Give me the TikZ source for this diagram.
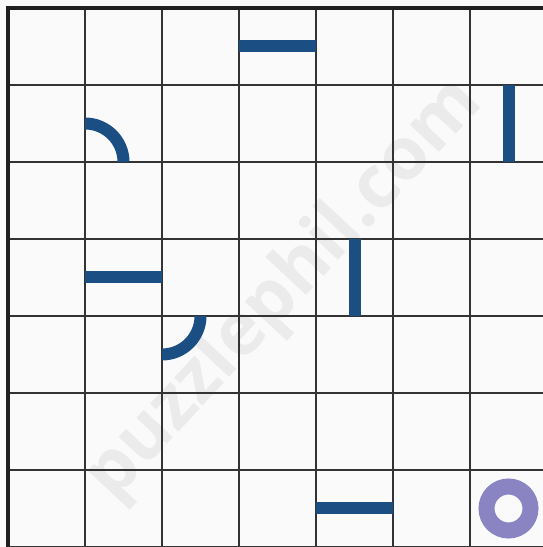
\documentclass[tikz,border=0pt]{standalone}
\usepackage{fontspec}
\newfontfamily\wmfont{Open Sans}
\usepackage{xcolor}
\definecolor{pathblue}{HTML}{1B4F84}
\definecolor{ringpurple}{HTML}{8A84C2}
\definecolor{paper}{HTML}{FAFAFA}
\definecolor{wmgray}{HTML}{EBEBEB}

\begin{document}
\begin{tikzpicture}[x=1pt,y=1pt,
  gridline/.style={draw=black!80,line width=1.2pt},
  border/.style={draw=black!88,line width=4pt},
  seg/.style={draw=pathblue,line width=12pt},
  ring/.style={draw=ringpurple,line width=16pt}]
\useasboundingbox (0,0) rectangle (543,547);
\clip (0,0) rectangle (543,547);
\fill[paper] (0,0) rectangle (543,547);
% watermark
\node[text=wmgray,font=\wmfont\bfseries\fontsize{73}{73}\selectfont,rotate=47] (wm) at (285,257) {puzzlephil.com};
% grid
\foreach \k in {1,...,6} {
  \draw[gridline] (8+77*\k,0) -- (8+77*\k,539);
  \draw[gridline] (8,539-77*\k) -- (547,539-77*\k);
}
\draw[gridline] (8,0.7) -- (547,0.7);
\draw[border] (8,0) -- (8,539) -- (547,539);
% path pieces
\draw[seg] (239,500.5) -- (316,500.5);
\draw[seg] (85,423.5) arc (90:0:38.5);
\draw[seg] (508.5,385) -- (508.5,462);
\draw[seg] (85,269.5) -- (162,269.5);
\draw[seg] (354.5,231) -- (354.5,308);
\draw[seg] (200.5,231) arc (0:-90:38.5);
\draw[seg] (316,38.5) -- (393,38.5);
\draw[ring] (508.5,38.5) circle (22);
\end{tikzpicture}
\end{document}
